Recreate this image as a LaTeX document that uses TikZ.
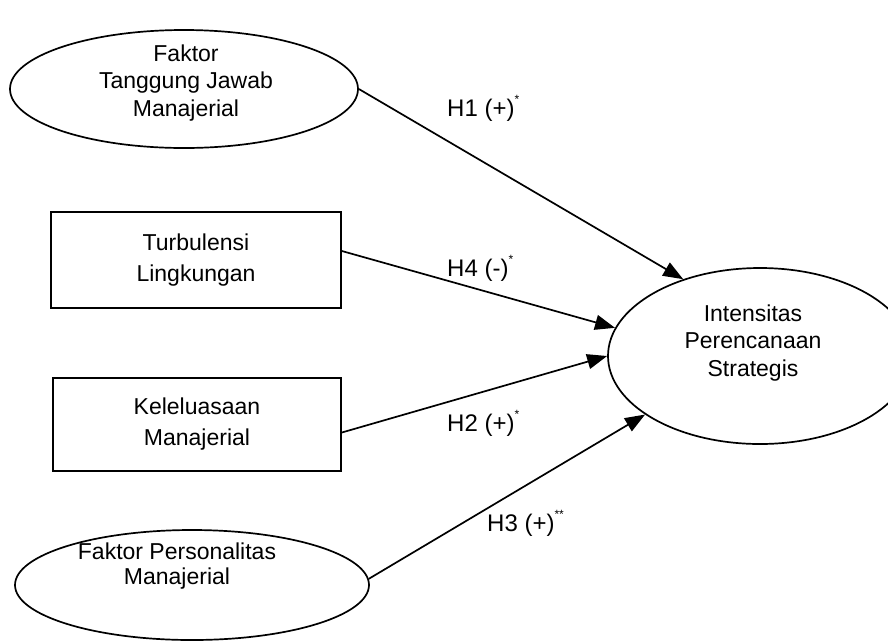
\documentclass[tikz,border=0pt]{standalone}
\usepackage{fontspec}
\setmainfont{Liberation Sans}
\usetikzlibrary{arrows.meta,shapes.geometric}
\begin{document}
\begin{tikzpicture}[x=1pt,y=-1pt,
  lw/.style={line width=1.7pt},
  oval/.style={draw,ellipse,lw,inner sep=0pt},
  box/.style={draw,rectangle,lw,inner sep=0pt,align=center,font=\fontsize{23}{31}\selectfont},
  txt/.style={align=center,inner sep=0pt,font=\fontsize{23}{27.5}\selectfont},
  lbl/.style={anchor=west,inner sep=0pt,font=\fontsize{24}{28}\selectfont},
  link/.style={lw,-{Triangle[length=20pt,width=15pt]}}]
\useasboundingbox (0,0) rectangle (888,641);
% nodes
\node[oval,minimum width=348pt,minimum height=118pt] (e1) at (184,89) {};
\node[txt] (e1t) at (186,83) {Faktor\\Tanggung Jawab\\Manajerial};
\node[box,minimum width=290pt,minimum height=96pt] (r1) at (196,260) {Turbulensi\\Lingkungan};
\node[box,minimum width=288pt,minimum height=93pt] (r2) at (197,424.5) {Keleluasaan\\Manajerial};
\node[oval,minimum width=354pt,minimum height=110pt] (e4) at (192,585) {};
\node[txt,font=\fontsize{23}{25}\selectfont] (e4t) at (177,566) {Faktor Personalitas\\Manajerial};
\node[oval,minimum width=304pt,minimum height=176pt] (out) at (760,356) {};
\node[txt] (outt) at (753,343) {Intensitas\\Perencanaan\\Strategis};
% connectors
\draw[link] (e1.east) -- (out.135);
\draw[link] ([yshift=9pt]r1.east) -- (out.169);
\draw[link] ([yshift=-8pt]r2.east) -- (out.180);
\draw[link] (e4.2) -- (out.207);
% labels
\newcommand{\sig}[1]{\raisebox{0.55em}{\fontsize{12}{12}\selectfont #1}}
\node[lbl] (h1) at (447,108) {H1 (+)\sig{*}};
\node[lbl] (h4) at (447,268) {H4 (-)\sig{*}};
\node[lbl] (h2) at (447,423) {H2 (+)\sig{*}};
\node[lbl] (h3) at (487,523) {H3 (+)\sig{**}};
\end{tikzpicture}
\end{document}
